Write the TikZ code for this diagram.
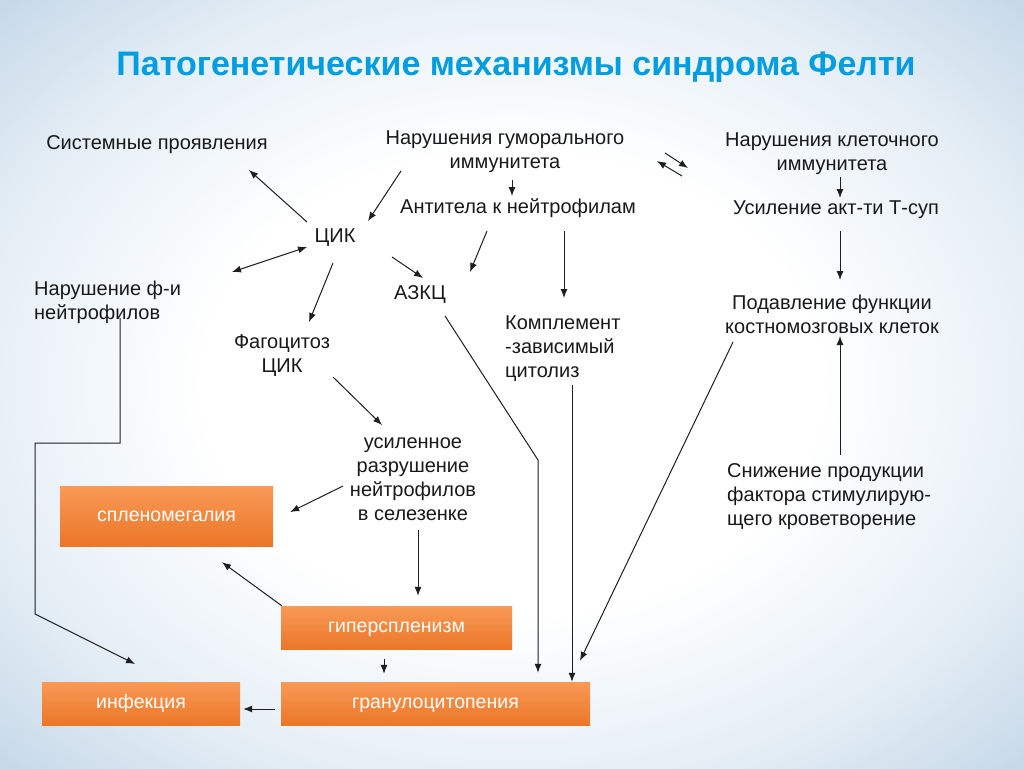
\documentclass[tikz,border=0pt]{standalone}
\usepackage{fontspec}
\setmainfont{Liberation Sans}
\usetikzlibrary{arrows.meta}

\definecolor{titelblau}{RGB}{0,158,224}
\definecolor{hgblau}{RGB}{196,215,231}
\definecolor{hgmitte}{RGB}{230,239,246}
\definecolor{orangeoben}{RGB}{249,154,86}
\definecolor{orangeunten}{RGB}{235,118,40}
\definecolor{pfeilgrau}{RGB}{30,30,30}
\pgfdeclareradialshading{hintergrund}{\pgfpoint{0bp}{0bp}}{color(0bp)=(white); color(15bp)=(white); color(26bp)=(hgmitte); color(36bp)=(hgblau); color(50bp)=(hgblau)}

\begin{document}
\begin{tikzpicture}[x=1pt, y=-1pt,
    txt/.style={font=\fontsize{20}{24}\selectfont, align=center, inner sep=0pt, text=black!90, yshift=-3pt},
    kasten/.style={minimum height=43pt, inner sep=0pt, top color=orangeoben, bottom color=orangeunten, text=white, font=\fontsize{19.5}{22}\selectfont, text height=10pt, text depth=0pt},
    pfeil/.style={-{Latex[length=9pt,width=7pt]}, line width=1pt, draw=pfeilgrau},
    linie/.style={line width=1pt, draw=pfeilgrau}]

    %Hintergrund
    \useasboundingbox (0,0) rectangle (1024,768);
    \shade[shading=hintergrund] (0,0) rectangle (1024,768);

    %Titel
    \node[font=\fontsize{34}{40}\selectfont\bfseries, text=titelblau] (titel) at (516,67) {Патогенетические механизмы синдрома Фелти};

    %Texte
    \node[txt] (sys) at (157,142) {Системные проявления};
    \node[txt] (hum) at (505,149) {Нарушения гуморального\\иммунитета};
    \node[txt] (cell) at (832,151) {Нарушения клеточного\\иммунитета};
    \node[txt] (anti) at (518,205) {Антитела к нейтрофилам};
    \node[txt] (tsup) at (836,207) {Усиление акт-ти Т-суп};
    \node[txt] (cik) at (335,235) {ЦИК};
    \node[txt] (azkc) at (420,292) {АЗКЦ};
    \node[txt, align=left, anchor=west] (neut) at (34,299) {Нарушение ф-и\\нейтрофилов};
    \node[txt] (supp) at (832,311) {Подавление функции\\костномозговых клеток};
    \node[txt] (phag) at (282,353) {Фагоцитоз\\ЦИК};
    \node[txt, align=left, anchor=west] (compl) at (505,346) {Комплемент\\-зависимый\\цитолиз};
    \node[txt] (destr) at (413,476) {усиленное\\разрушение\\нейтрофилов\\в селезенке};
    \node[txt, align=left, anchor=west] (fact) at (727,494) {Снижение продукции\\фактора стимулирую-\\щего кроветворение};

    %Kästen
    \node[kasten, minimum width=213pt, minimum height=60pt] (splen) at (166.5,516) {спленомегалия};
    \node[kasten, minimum width=231pt] (hyper) at (396.5,627.5) {гиперспленизм};
    \node[kasten, minimum width=198pt] (infekt) at (141,703.5) {инфекция};
    \node[kasten, minimum width=309pt] (granul) at (435.5,703.5) {гранулоцитопения};

    %Pfeile oben
    \draw[pfeil] ([shift={(-28,-16)}]cik.center) -- ([shift={(92,25)}]sys.center);
    \draw[pfeil, {Latex[length=9pt,width=7pt]}-{Latex[length=9pt,width=7pt]}] ([shift={(198,-30)}]neut.west) -- ([shift={(-28,9)}]cik.center);
    \draw[pfeil] ([shift={(-2,25)}]cik.center) -- ([shift={(27,-34)}]phag.center);
    \draw[pfeil] ([shift={(-104,19)}]hum.center) -- ([shift={(33,-17)}]cik.center);
    \draw[pfeil] ([shift={(7,28)}]hum.center) -- ([shift={(-6,-12)}]anti.center);
    \draw[pfeil] ([shift={(-31,23)}]anti.center) -- ([shift={(50,-23)}]azkc.center);
    \draw[pfeil] ([shift={(57,19)}]cik.center) -- ([shift={(3,-17)}]azkc.center);
    \draw[pfeil] ([shift={(46,23)}]anti.center) -- ([shift={(59,-51)}]compl.west);

    %Wechselwirkung humoral - zellulär
    \draw[pfeil] ([shift={(160,1)}]hum.center) -- ([shift={(-144,14)}]cell.center);
    \draw[pfeil] ([shift={(-150,22)}]cell.center) -- ([shift={(152,9)}]hum.center);

    %rechte Spalte
    \draw[pfeil] ([shift={(8,23)}]cell.center) -- ([shift={(4,-12)}]tsup.center);
    \draw[pfeil] ([shift={(4,21)}]tsup.center) -- ([shift={(8,-34)}]supp.center);
    \draw[pfeil] ([shift={(113,-42)}]fact.west) -- ([shift={(8,22)}]supp.center);

    %Milz
    \draw[pfeil] ([shift={(51,21)}]phag.center) -- ([shift={(-31,-54)}]destr.center);
    \draw[pfeil] ([shift={(-70,7)}]destr.center) -- ([shift={(17,-4)}]splen.east);
    \draw[pfeil] ([shift={(5,51)}]destr.center) -- ([shift={(21.5,-10)}]hyper.north);
    \draw[pfeil] ([shift={(1,0)}]hyper.north west) -- ([shift={(55.5,16)}]splen.south);
    \draw[pfeil] ([shift={(-12.5,10)}]hyper.south) -- ([shift={(-51.5,-8)}]granul.north);
    \draw[pfeil] ([shift={(-6,5.5)}]granul.west) -- ([shift={(3,5.5)}]infekt.east);

    %lange Linien zur Granulozytopenie
    \draw[pfeil] ([shift={(25,21)}]azkc.center) -- ++(93,144) -- ([shift={(102.5,-9)}]granul.north);
    \draw[pfeil] ([shift={(67,36)}]compl.west) -- ([shift={(136.5,0)}]granul.north);
    \draw[pfeil] ([shift={(-99,28)}]supp.center) -- ([shift={(144.5,-21)}]granul.north);

    %Neutrophilen - Infektion
    \draw[pfeil] ([shift={(86,16)}]neut.west) -- ++(0,125) -- ++(-85,0) -- ++(0,171) -- ([shift={(-6,-39.5)}]infekt.center);

\end{tikzpicture}
\end{document}
